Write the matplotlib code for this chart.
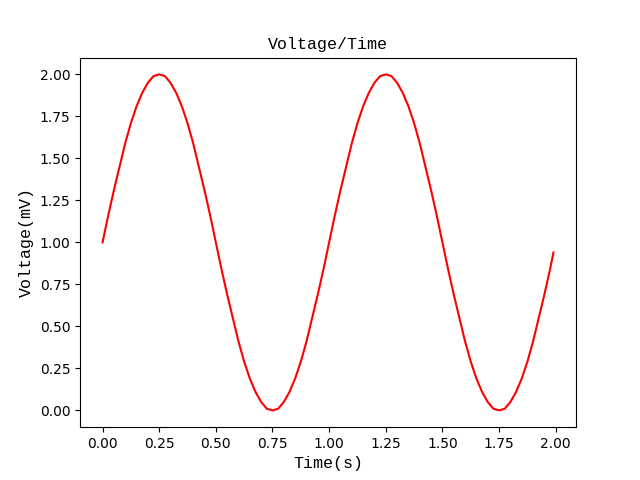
import matplotlib.pyplot as plt

# time in seconds
time_s = [
    0.000, 0.025, 0.050, 0.075, 0.100, 0.125, 0.150, 0.175, 0.200, 0.225,
    0.250, 0.275, 0.300, 0.325, 0.350, 0.375, 0.400, 0.425, 0.450, 0.475,
    0.500, 0.525, 0.550, 0.575, 0.600, 0.625, 0.650, 0.675, 0.700, 0.725,
    0.750, 0.775, 0.800, 0.825, 0.850, 0.875, 0.900, 0.925, 0.950, 0.975,
    1.000, 1.025, 1.050, 1.075, 1.100, 1.125, 1.150, 1.175, 1.200, 1.225,
    1.250, 1.275, 1.300, 1.325, 1.350, 1.375, 1.400, 1.425, 1.450, 1.475,
    1.500, 1.525, 1.550, 1.575, 1.600, 1.625, 1.650, 1.675, 1.700, 1.725,
    1.750, 1.775, 1.800, 1.825, 1.850, 1.875, 1.900, 1.925, 1.950, 1.975,
    1.990,
]

# voltage in mV
voltage_mv = [
    1.00, 1.16, 1.31, 1.45, 1.59, 1.71, 1.81, 1.89, 1.95, 1.99,
    2.00, 1.99, 1.95, 1.89, 1.81, 1.71, 1.59, 1.45, 1.31, 1.16,
    1.00, 0.84, 0.69, 0.55, 0.41, 0.29, 0.19, 0.11, 0.05, 0.01,
    0.00, 0.01, 0.05, 0.11, 0.19, 0.29, 0.41, 0.55, 0.69, 0.84,
    1.00, 1.16, 1.31, 1.45, 1.59, 1.71, 1.81, 1.89, 1.95, 1.99,
    2.00, 1.99, 1.95, 1.89, 1.81, 1.71, 1.59, 1.45, 1.31, 1.16,
    1.00, 0.84, 0.69, 0.55, 0.41, 0.29, 0.19, 0.11, 0.05, 0.01,
    0.00, 0.01, 0.05, 0.11, 0.19, 0.29, 0.41, 0.55, 0.69, 0.84,
    0.94,
]

label_font = ['Liberation Mono', 'DejaVu Sans Mono']

fig, ax = plt.subplots(figsize=(6.4, 4.8), dpi=100)
ax.plot(time_s, voltage_mv, color='red')

ax.set_title('Voltage/Time', family=label_font, fontsize=12)
ax.set_xlabel('Time(s)', family=label_font, fontsize=12)
ax.set_ylabel('Voltage(mV)', family=label_font, fontsize=12)

fig.savefig('out.png')
